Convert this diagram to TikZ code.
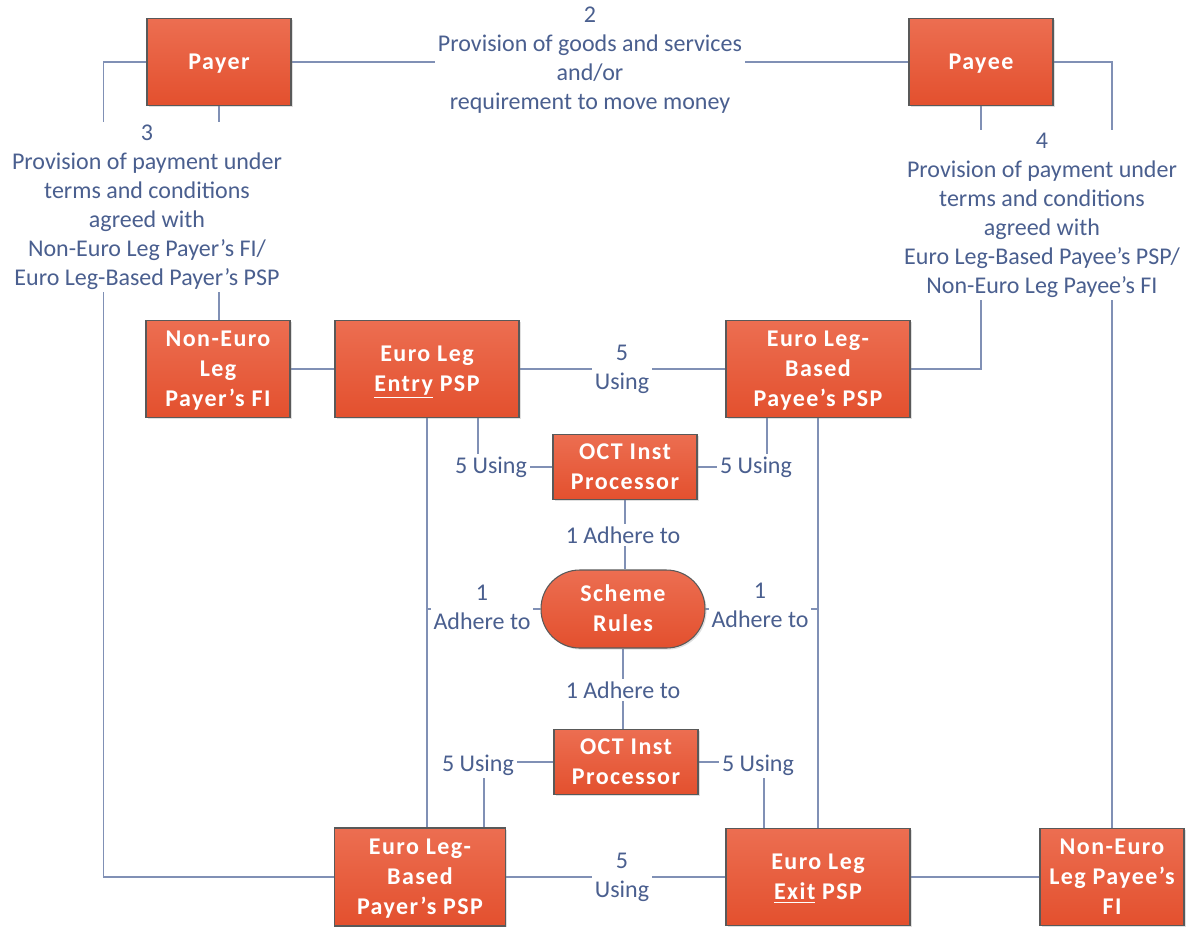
\documentclass[tikz,border=0pt]{standalone}
\usepackage{fontspec}
\setmainfont{Carlito}
\newfontfamily\boxfont[LetterSpace=6]{Carlito}
\usetikzlibrary{
    positioning,
    calc,
    shadows,
    backgrounds
}
\definecolor{boxtop}{HTML}{EC6E51}
\definecolor{boxbot}{HTML}{E3502E}
\definecolor{boxline}{HTML}{595959}
\definecolor{linkc}{HTML}{8090B5}
\definecolor{labc}{HTML}{4A5F8F}
% box text: fixed line boxes, caps centred in the box
\newcommand{\boxlines}[1]{\raisebox{-1.3pt}[\height][\depth]{\begin{tabular}{@{}c@{}}#1\end{tabular}}}

\begin{document}
\begin{tikzpicture}[x=0.75pt, y=-0.75pt,
    party/.style={draw=boxline, line width=0.8pt, top color=boxtop, bottom color=boxbot,
        drop shadow={shadow xshift=1.2pt, shadow yshift=-1.2pt, opacity=0.25},
        text=white, inner sep=2pt,
        font=\boxfont\bfseries\fontsize{18pt}{22.5pt}\selectfont},
    endbox/.style={party, minimum width=108pt, minimum height=65.25pt},
    smallbox/.style={party, minimum width=108pt, minimum height=73pt},
    widebox/.style={party, minimum width=138pt, minimum height=73pt},
    octbox/.style={party, minimum width=108pt, minimum height=48.75pt},
    lbl/.style={fill=white, text=labc, align=center, inner sep=2pt,
        font=\fontsize{18pt}{21.75pt}\selectfont},
    link/.style={draw=linkc, line width=1.1pt}]
    \useasboundingbox (0,0) rectangle (1191,926);

    % Payer and payee
    \node[endbox] (payer) at (219,62) {\boxlines{Payer}};
    \node[endbox] (payee) at (981,62) {\boxlines{Payee}};

    % Upper row
    \node[smallbox] (nepayer) at (218,369) {\boxlines{Non-Euro\\Leg\\Payer’s FI}};
    \node[widebox] (entry) at (427,369) {\boxlines{Euro Leg\\\underline{Entry} PSP}};
    \node[widebox] (bpayee) at (818,369) {\boxlines{Euro Leg-\\Based\\Payee’s PSP}};

    % Processors and rules
    \node[octbox] (octA) at (625,467) {\boxlines{OCT Inst\\Processor}};
    \node[party, minimum width=123pt, minimum height=58.5pt, rounded corners=29pt] (scheme) at (623,609) {\boxlines{Scheme\\Rules}};
    \node[octbox] (octB) at (626,762) {\boxlines{OCT Inst\\Processor}};

    % Lower row
    \node[party, minimum width=128.25pt, minimum height=73.5pt] (bpayer) at (420,877) {\boxlines{Euro Leg-\\Based\\Payer’s PSP}};
    \node[widebox] (exit) at (818,877) {\boxlines{Euro Leg\\\underline{Exit} PSP}};
    \node[smallbox] (nepayee) at (1112,877) {\boxlines{Non-Euro\\Leg Payee’s\\FI}};

    % Labels
    \node[lbl] (lab2) at (590,60) {2\\Provision of goods and services\\and/or\\requirement to move money};
    \node[lbl] (lab3) at (147,207) {3\\Provision of payment under\\terms and conditions\\agreed with\\Non-Euro Leg Payer’s FI/\\Euro Leg-Based Payer’s PSP};
    \node[lbl] (lab4) at (1042,215) {4\\Provision of payment under\\terms and conditions\\agreed with\\Euro Leg-Based Payee’s PSP/\\Non-Euro Leg Payee’s FI};
    \node[lbl] (usetop) at (622,369) {5\\Using};
    \node[lbl] (useA1) at (491,467) {5 Using};
    \node[lbl] (useA2) at (756,467) {5 Using};
    \node[lbl] (adhA) at (623,535) {1 Adhere to};
    \node[lbl] (adhL) at (482,607) {1\\Adhere to};
    \node[lbl] (adhR) at (760,605) {1\\Adhere to};
    \node[lbl] (adhB) at (623,690) {1 Adhere to};
    \node[lbl] (useB1) at (478,765) {5 Using};
    \node[lbl] (useB2) at (758,765) {5 Using};
    \node[lbl] (usebot) at (622,877) {5\\Using};

    % Connectors
    \begin{scope}[on background layer]
        \draw[link] (payer.west) -- ++(-43,0) |- (bpayer.west);
        \draw[link] (payer.south) -- (payer.south |- nepayer.north);
        \draw[link] (payer.east) -- (payee.west);
        \draw[link] (payee.south) |- (bpayee.east);
        \draw[link] (payee.east) -| (nepayee.north);
        \draw[link] (nepayer) -- (entry);
        \draw[link] (entry) -- (bpayee);
        \draw[link] ($(entry.south)+(51,0)$) |- (octA.west);
        \draw[link] ($(bpayee.south)+(-51,0)$) |- (octA.east);
        \draw[link] (octA.south) -- (octA.south |- scheme.north);
        \draw[link] (entry.south) -- (entry.south |- bpayer.north);
        \draw[link] (bpayee.south) -- (exit.north);
        \draw[link] (scheme.west) -- (scheme.west -| entry.south);
        \draw[link] (scheme.east) -- (scheme.east -| bpayee.south);
        \draw[link] (scheme.south) -- (scheme.south |- octB.north);
        \draw[link] (octB.west) -| ($(bpayer.north)+(64,0)$);
        \draw[link] (octB.east) -| ($(exit.north)+(-54,0)$);
        \draw[link] (bpayer) -- (exit);
        \draw[link] (exit) -- (nepayee);
    \end{scope}
\end{tikzpicture}
\end{document}
